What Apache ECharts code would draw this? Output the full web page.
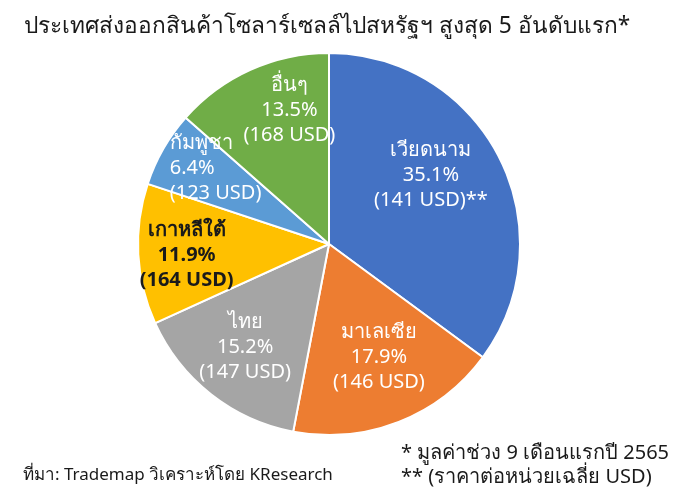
<!DOCTYPE html>
<html>
<head>
<meta charset="utf-8">
<script src="https://cdn.jsdelivr.net/npm/echarts@6/dist/echarts.min.js"></script>
<style>
html,body{margin:0;padding:0;background:#fff;}
#chart{width:678px;height:503px;}
</style>
</head>
<body>
<div id="chart"></div>
<script>
const countries = ['เวียดนาม', 'มาเลเซีย', 'ไทย', 'เกาหลีใต้', 'กัมพูชา', 'อื่นๆ'];
const shares = [35.1, 17.9, 15.2, 11.9, 6.4, 13.5];
const prices = [141, 146, 147, 164, 123, 168];
const priceNotes = ['**', '', '', '', '', ''];
const colors = ['#4472C4', '#ED7D31', '#A5A5A5', '#FFC000', '#5B9BD5', '#70AD47'];

const FONT = '"Noto Sans", "DejaVu Sans", sans-serif';
const labelOffsets = [[14, -24], [14, 22], [-23, 26], [-44, 6], [-28, -27], [1, -44]];
const labelColors = ['#fff', '#fff', '#fff', '#1a1a1a', '#fff', '#fff'];
const lineAligns = ['center', 'center', 'center', 'center', 'left', 'center'];

const chart = echarts.init(document.getElementById('chart'));
chart.setOption({
  backgroundColor: '#fff',
  animation: false,
  title: {
    text: 'ประเทศส่งออกสินค้าโซลาร์เซลล์ไปสหรัฐฯ สูงสุด 5 อันดับแรก*',
    left: 19, top: 10,
    textStyle: { fontFamily: FONT, fontSize: 22.7, fontWeight: 'normal', color: '#1a1a1a' }
  },
  graphic: [
    { type: 'text', left: 23, top: 467, style: { text: 'ที่มา: Trademap วิเคราะห์โดย KResearch', font: '17px ' + FONT, fill: '#1a1a1a' } },
    { type: 'text', left: 401, top: 441, style: { text: '* มูลค่าช่วง 9 เดือนแรกปี 2565\n** (ราคาต่อหน่วยเฉลี่ย USD)', font: '20px ' + FONT, fill: '#1a1a1a', lineHeight: 24 } }
  ],
  series: [{
    type: 'pie',
    center: [329, 244],
    radius: [0, 191],
    startAngle: 90,
    clockwise: true,
    avoidLabelOverlap: false,
    labelLayout: { hideOverlap: false },
    itemStyle: { borderColor: '#fff', borderWidth: 2 },
    label: { show: true, position: 'inside', fontFamily: FONT, fontSize: 20, lineHeight: 25 },
    labelLine: { show: false },
    emphasis: { disabled: true },
    data: countries.map((name, i) => {
      const st = {
        color: labelColors[i], fontFamily: FONT, fontSize: 20, lineHeight: 25,
        fontWeight: i === 3 ? 'bold' : 'normal', align: lineAligns[i]
      };
      return {
        name: name,
        value: shares[i],
        itemStyle: { color: colors[i] },
        label: {
          offset: labelOffsets[i],
          rich: { t: st },
          formatter: () => '{t|' + name + '}\n{t|' + shares[i].toFixed(1) + '%}\n{t|(' + prices[i] + ' USD)' + priceNotes[i] + '}'
        }
      };
    })
  }]
});
</script>
</body>
</html>
